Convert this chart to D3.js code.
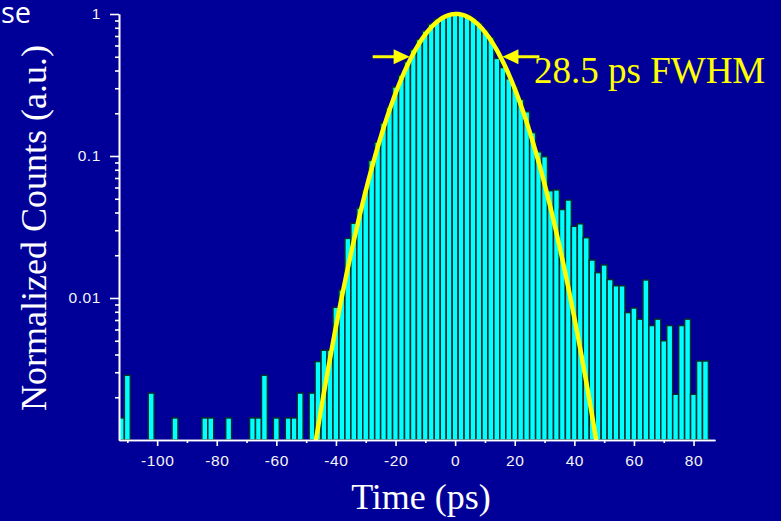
<!DOCTYPE html>
<html>
<head>
<meta charset="utf-8">
<script src="https://cdn.jsdelivr.net/npm/d3@7"></script>
<style>
  html, body { margin: 0; padding: 0; background: #000099; }
  svg { display: block; }
</style>
</head>
<body>
<div id="chart"></div>
<script>
// histogram bins (centre of 2 ps bin, ps) and normalized counts
const binCenters = [-112, -110, -102, -94, -84, -82, -76, -68, -66, -64, -60, -56, -54, -52,
  -48, -46, -44, -42, -40, -38, -36, -34, -32, -30, -28, -26, -24, -22, -20, -18, -16, -14,
  -12, -10, -8, -6, -4, -2, 0, 2, 4, 6, 8, 10, 12, 14, 16, 18, 20, 22, 24, 26, 28, 30,
  32, 34, 36, 38, 40, 42, 44, 46, 48, 50, 52, 54, 56, 58, 60, 62, 64, 66, 68, 70, 72, 74,
  76, 78, 80, 82, 84];
const counts = [0.00143, 0.00286, 0.00214, 0.00143, 0.00143, 0.00143, 0.00143, 0.00143, 0.00143, 0.00286, 0.00143, 0.00143, 0.00143, 0.00214,
  0.00214, 0.00357, 0.00429, 0.00429, 0.0086, 0.0114, 0.0263, 0.0336, 0.043, 0.057, 0.093, 0.125, 0.17, 0.22, 0.306, 0.37, 0.46, 0.56,
  0.66, 0.76, 0.85, 0.92, 0.96, 0.99, 1.0, 1.0, 0.99, 0.93, 0.86, 0.77, 0.68, 0.487, 0.42, 0.35, 0.305, 0.25, 0.205, 0.146, 0.107, 0.099,
  0.057, 0.0577, 0.042, 0.049, 0.032, 0.0333, 0.0266, 0.0185, 0.0151, 0.0171, 0.0135, 0.0122, 0.0122, 0.0079, 0.0085, 0.0071, 0.0134, 0.0064,
  0.0071, 0.005, 0.0064, 0.0021, 0.0064, 0.0071, 0.0021, 0.0036, 0.0036];
const binWidth = 2;

// gaussian fit drawn over the histogram
const fitAmp = 1.0, fitCenter = 0.3, fitSigma = 12.65;

const xTicks = [-100, -80, -60, -40, -20, 0, 20, 40, 60, 80];
const xMinor = [-110, -90, -70, -50, -30, -10, 10, 30, 50, 70];
const yTicks = [0.01, 0.1, 1];
const yTickLabels = ["0.01", "0.1", "1"];
const yMinor = [0.002, 0.003, 0.004, 0.005, 0.006, 0.007, 0.008, 0.009,
  0.02, 0.03, 0.04, 0.05, 0.06, 0.07, 0.08, 0.09,
  0.2, 0.3, 0.4, 0.5, 0.6, 0.7, 0.8, 0.9];

const W = 781, H = 521;
const pLeft = 119, pRight = 715, pTop = 14, pBottom = 440;

const svg = d3.select("#chart").append("svg")
  .attr("width", W)
  .attr("height", H);

svg.append("rect").attr("width", W).attr("height", H).attr("fill", "#000099");

const x = d3.scaleLinear().domain([-112.8, 87.2]).range([pLeft, pRight]);
const y = d3.scaleLog().domain([0.001, 1]).range([pBottom, pTop]);

svg.append("clipPath").attr("id", "plot")
  .append("rect")
  .attr("x", pLeft).attr("y", 0)
  .attr("width", pRight - pLeft).attr("height", pBottom);

const plot = svg.append("g").attr("clip-path", "url(#plot)");

const bins = binCenters.map((c, i) => ({c: c, v: counts[i]}));

plot.selectAll("rect.bar")
  .data(bins)
  .enter()
  .append("rect")
  .attr("class", "bar")
  .attr("x", d => x(d.c - binWidth / 2))
  .attr("width", d => x(d.c + binWidth / 2) - x(d.c - binWidth / 2))
  .attr("y", d => y(d.v))
  .attr("height", d => pBottom - y(d.v))
  .attr("fill", "#00ffff")
  .attr("stroke", "#0a2c2c")
  .attr("stroke-width", 1.5);

// fit curve
const fit = d3.range(-60, 60.01, 0.5).map(t => ({t: t, v: fitAmp * Math.exp(-Math.pow(t - fitCenter, 2) / (2 * fitSigma * fitSigma))}))
  .filter(d => d.v > 0.0005);

plot.append("path")
  .datum(fit)
  .attr("fill", "none")
  .attr("stroke", "#ffff00")
  .attr("stroke-width", 4.5)
  .attr("stroke-linejoin", "round")
  .attr("d", d3.line().x(d => x(d.t)).y(d => y(d.v)));

// axes
const axisStyle = g => {
  g.selectAll(".domain").attr("stroke", "#ffffff").attr("stroke-width", 1.6);
  g.selectAll(".tick line").attr("stroke", "#ffffff").attr("stroke-width", 1.6);
  g.selectAll(".tick text").attr("fill", "#f4f4f4")
    .style("font-family", "'Liberation Sans', Arial, sans-serif")
    .style("font-size", "15.5px")
    .style("letter-spacing", "0.6px");
};

svg.append("g")
  .attr("transform", `translate(0,${pBottom})`)
  .call(d3.axisBottom(x).tickValues(xMinor).tickSize(3).tickSizeOuter(0).tickFormat(""))
  .call(axisStyle);

svg.append("g")
  .attr("transform", `translate(0,${pBottom})`)
  .call(d3.axisBottom(x).tickValues(xTicks).tickSize(6).tickSizeOuter(0).tickPadding(9).tickFormat(d => String(d)))
  .call(axisStyle);

svg.append("g")
  .attr("transform", `translate(${pLeft},0)`)
  .call(d3.axisLeft(y).tickValues(yMinor).tickSize(4).tickSizeOuter(0).tickFormat(""))
  .call(axisStyle);

svg.append("g")
  .attr("transform", `translate(${pLeft},0)`)
  .call(d3.axisLeft(y).tickValues(yTicks).tickSize(9).tickSizeOuter(0).tickPadding(9)
    .tickFormat((d, i) => yTickLabels[i]))
  .call(axisStyle);

// FWHM arrows
const hwhm = fitSigma * Math.sqrt(2 * Math.log(2));
const yHalf = y(fitAmp / 2);
const arrowLen = 37, headLen = 16, headHalf = 7.5;
const tipL = x(fitCenter - hwhm) - 2;
const tipR = x(fitCenter + hwhm) + 2;

const ann = svg.append("g").attr("fill", "#ffff00").attr("stroke", "#ffff00");
ann.append("line").attr("x1", tipL - arrowLen).attr("x2", tipL - headLen + 2)
  .attr("y1", yHalf).attr("y2", yHalf).attr("stroke-width", 3);
ann.append("path").attr("stroke", "none")
  .attr("d", `M${tipL},${yHalf} L${tipL - headLen},${yHalf - headHalf} L${tipL - headLen},${yHalf + headHalf} Z`);
ann.append("line").attr("x1", tipR + arrowLen).attr("x2", tipR + headLen - 2)
  .attr("y1", yHalf).attr("y2", yHalf).attr("stroke-width", 3);
ann.append("path").attr("stroke", "none")
  .attr("d", `M${tipR},${yHalf} L${tipR + headLen},${yHalf - headHalf} L${tipR + headLen},${yHalf + headHalf} Z`);

svg.append("text")
  .attr("x", 534).attr("y", 83)
  .attr("fill", "#ffff00")
  .style("font-family", "'Liberation Serif', 'Times New Roman', serif")
  .style("font-size", "37px")
  .text("28.5 ps FWHM");

// axis titles
svg.append("text")
  .attr("transform", "translate(46,228) rotate(-90)")
  .attr("text-anchor", "middle")
  .attr("fill", "#ffffff")
  .style("font-family", "'Liberation Serif', 'Times New Roman', serif")
  .style("font-size", "36px")
  .text("Normalized Counts (a.u.)");

svg.append("text")
  .attr("x", 421).attr("y", 509)
  .attr("text-anchor", "middle")
  .attr("fill", "#ffffff")
  .style("font-family", "'Liberation Serif', 'Times New Roman', serif")
  .style("font-size", "36px")
  .text("Time (ps)");

// title fragment in the corner
svg.append("text")
  .attr("x", 1).attr("y", 23)
  .attr("fill", "#ffffff")
  .style("font-family", "'Open Sans', sans-serif")
  .style("font-size", "29px")
  .text("se");
</script>
</body>
</html>
